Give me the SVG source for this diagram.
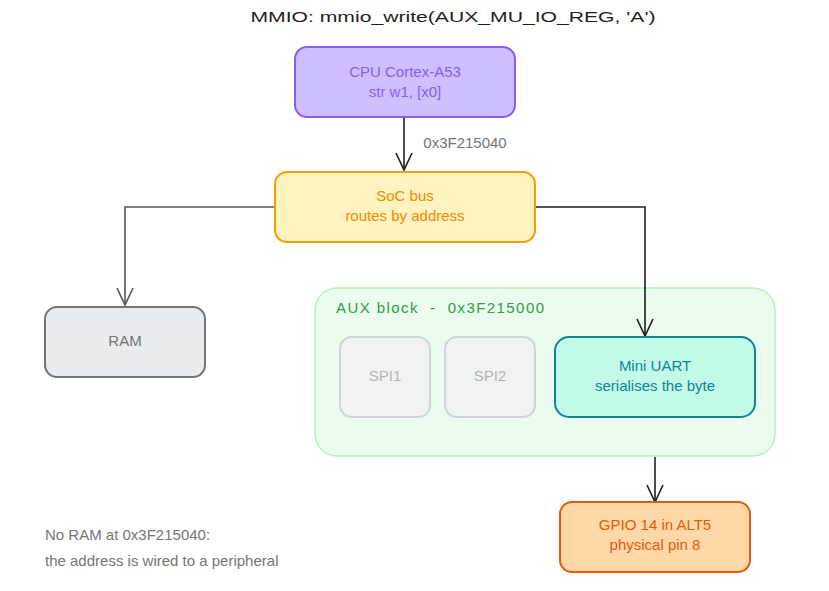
<svg xmlns="http://www.w3.org/2000/svg" width="829" height="591" viewBox="0 0 829 591">
<defs>
<style>
text{font-family:"Liberation Sans",Arial,sans-serif;font-size:15px;text-anchor:middle}
.b{stroke-width:2}
.c{fill:none;stroke:#1e1e1e;stroke-width:1.6}
</style>
<marker id="g" viewBox="0 0 20 20" refX="19" refY="10" markerWidth="20" markerHeight="20" markerUnits="userSpaceOnUse" orient="auto">
<path d="M2 2 L19 10 L2 18" fill="none" stroke="#555" stroke-width="1.6"/>
</marker>
<marker id="k" viewBox="0 0 20 20" refX="19" refY="10" markerWidth="20" markerHeight="20" markerUnits="userSpaceOnUse" orient="auto">
<path d="M2 2 L19 10 L2 18" fill="none" stroke="#1e1e1e" stroke-width="1.6"/>
</marker>
</defs>
<rect width="829" height="591" fill="#fff"/>
<text x="453" y="22" font-size="19" fill="#1e1e1e" textLength="405" lengthAdjust="spacingAndGlyphs">MMIO: mmio_write(AUX_MU_IO_REG, 'A')</text>
<g id="aux"><rect x="315" y="288" width="460" height="168" rx="22" fill="#ebfbee" stroke="#b2f2bb" stroke-width="1.5"/>
<text x="336" y="313" fill="#2f9e44" style="text-anchor:start" textLength="208" xml:space="preserve">AUX block  -  0x3F215000</text></g>
<g id="connectors">
<path class="c" d="M404 118 V170" marker-end="url(#k)"/>
<text x="465" y="148" fill="#757575">0x3F215040</text>
<path d="M275 207 H125 V305" fill="none" stroke="#555" stroke-width="1.6" marker-end="url(#g)"/>
<path class="c" d="M536 207 H645 V336" marker-end="url(#k)"/>
<path class="c" d="M655 457 V502" marker-end="url(#k)"/>
</g>
<g id="cpu"><rect x="295" y="47" width="220" height="70" rx="12" fill="#d0bfff" stroke="#845ef7" class="b"/>
<text x="405" y="77" fill="#845ef7">CPU Cortex-A53</text><text x="405" y="97" fill="#845ef7">str w1, [x0]</text></g>
<g id="bus"><rect x="275" y="172" width="260" height="70" rx="12" fill="#fff3bf" stroke="#f59f00" class="b"/>
<text x="405" y="201" fill="#f08c00">SoC bus</text><text x="405" y="221" fill="#f08c00">routes by address</text></g>
<g id="ram"><rect x="45" y="307" width="160" height="70" rx="12" fill="#e9ecef" stroke="#757575" class="b"/>
<text x="125" y="346" fill="#757575">RAM</text></g>
<g id="spi1"><rect x="340" y="337" width="90" height="80" rx="12" fill="#f1f3f0" stroke="#ced4da" class="b"/>
<text x="385" y="381" fill="#adb5bd">SPI1</text></g>
<g id="spi2"><rect x="445" y="337" width="90" height="80" rx="12" fill="#f1f3f0" stroke="#ced4da" class="b"/>
<text x="490" y="381" fill="#adb5bd">SPI2</text></g>
<g id="uart"><rect x="555" y="337" width="200" height="80" rx="14" fill="#c3fae8" stroke="#0c8599" class="b"/>
<text x="655" y="371" fill="#0c8599">Mini UART</text><text x="655" y="391" fill="#0c8599">serialises the byte</text></g>
<g id="gpio"><rect x="560" y="502" width="190" height="70" rx="12" fill="#ffd8a8" stroke="#e8590c" class="b"/>
<text x="655" y="530" fill="#e8590c">GPIO 14 in ALT5</text><text x="655" y="550" fill="#e8590c">physical pin 8</text></g>
<g id="note"><text x="45" y="540" fill="#757575" style="text-anchor:start">No RAM at 0x3F215040:</text>
<text x="45" y="566" fill="#757575" style="text-anchor:start">the address is wired to a peripheral</text></g>
</svg>
